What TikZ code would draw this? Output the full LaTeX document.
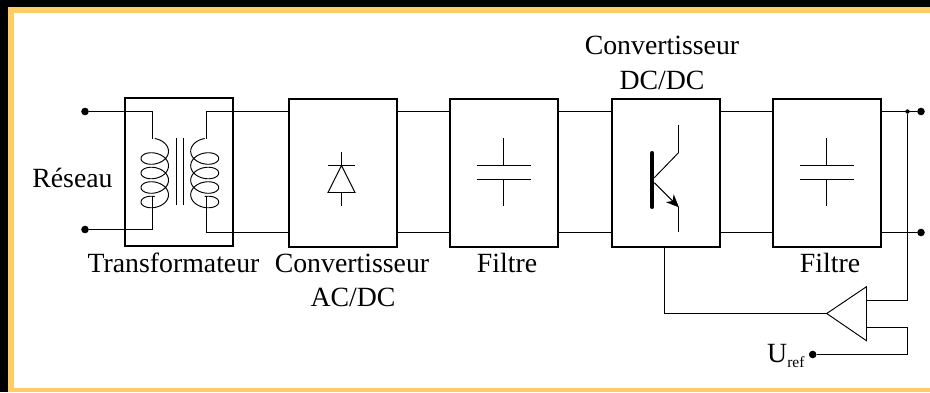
\documentclass[tikz,border=0pt]{standalone}
\usepackage{fontspec}
\setmainfont{Liberation Serif}
\usepackage{tikz}
\usetikzlibrary{arrows.meta,calc}
\definecolor{frame}{HTML}{FFCC66}
\tikzset{
  blockbox/.style={draw=black, line width=2.2pt, minimum width=108pt, minimum height=148pt, outer sep=0pt},
  wire/.style={draw=black, line width=1pt},
  thinw/.style={draw=black, line width=0.95pt},
  dot/.style={circle, fill=black, inner sep=0pt, minimum size=7.6pt},
  smalldot/.style={circle, fill=black, inner sep=0pt, minimum size=4.4pt},
  lab/.style={anchor=base, inner sep=0pt, font=\fontsize{27.8}{33}\selectfont}
}
\newcommand{\CoilAt}[2]{%
  \draw[thinw] plot[domain=-90:1350,samples=220,smooth]
    ({#1+#2*cos(\x)},{151.25+14.5*(\x/360)+9.1*sin(\x)});
}
\newcommand{\CapAt}[1]{%
  \draw[thinw] (#1,138.3) -- (#1,165.5);
  \draw[thinw] (#1-27,165.5) -- (#1+27,165.5);
  \draw[thinw] (#1-27,179.5) -- (#1+27,179.5);
  \draw[thinw] (#1,179.5) -- (#1,205.7);
}

\begin{document}
\begin{tikzpicture}[x=1pt,y=-1pt]
  \useasboundingbox (0,0) rectangle (930,392);
  \fill[black] (0,0) rectangle (930,392);
  \fill[frame] (8,7) rectangle (930,392);
  \fill[white] (14,13) rectangle (930,388);

  \coordinate (hi) at (0,111.5);
  \coordinate (lo) at (0,232.5);

  % blocks
  \node[blockbox] (trafo) at (179,172) {};
  \node[blockbox] (acdc) at (343,173) {};
  \node[blockbox] (filtA) at (504,173) {};
  \node[blockbox] (dcdc) at (666,173) {};
  \node[blockbox] (filtB) at (827,173) {};

  % terminals
  \node[dot] (inA) at (85,111.5) {};
  \node[dot] (inB) at (85,229.5) {};
  \node[dot] (outA) at (921,111.5) {};
  \node[dot] (outB) at (921,232.5) {};
  \node[smalldot] (tap) at (907.5,111.5) {};
  \node[dot] (uref) at (812.7,354.5) {};

  % transformer
  \coordinate (pA) at (152.5,138.5);
  \coordinate (pB) at (152.5,196.7);
  \coordinate (sA) at (206.5,138.5);
  \coordinate (sB) at (206.5,196.7);
  \draw[wire] (inA) -- (pA |- inA) -- (pA);
  \draw[wire] (inB) -- (pB |- inB) -- (pB);
  \draw[wire] (acdc.west |- hi) -- (sA |- hi) -- (sA);
  \draw[wire] (acdc.west |- lo) -- (sB |- lo) -- (sB);
  \CoilAt{154.75}{13.75}
  \CoilAt{204.7}{-14}
  \draw[thinw] (176.5,138.3) -- (176.5,205);
  \draw[thinw] (183.5,138.3) -- (183.5,205);

  % links
  \draw[wire] (acdc.east |- hi) -- (filtA.west |- hi);
  \draw[wire] (acdc.east |- lo) -- (filtA.west |- lo);
  \draw[wire] (filtA.east |- hi) -- (dcdc.west |- hi);
  \draw[wire] (filtA.east |- lo) -- (dcdc.west |- lo);
  \draw[wire] (dcdc.east |- hi) -- (filtB.west |- hi);
  \draw[wire] (dcdc.east |- lo) -- (filtB.west |- lo);
  \draw[wire] (filtB.east |- hi) -- (outA);
  \draw[wire] (filtB.east |- lo) -- (outB);

  % diode
  \draw[thinw] (341.5,152.3) -- (341.5,165.5);
  \draw[thinw] (328,165.5) -- (355,165.5);
  \draw[thinw] (341.5,165.5) -- (355,192.5) -- (328,192.5) -- cycle;
  \draw[thinw] (341.5,192.5) -- (341.5,205.7);

  \CapAt{503.5}
  \CapAt{826.5}

  % transistor
  \draw[black, line width=4pt, line cap=round] (652.3,153) -- (652.3,207);
  \draw[thinw] (678.5,125) -- (678.5,152.7) -- (654.3,177.7);
  \draw[thinw, -{Stealth[length=13pt,width=11pt,inset=4pt]}] (654.3,182.7) -- (679,207.4);
  \draw[thinw] (678.5,206.7) -- (678.5,232.3);

  % regulation loop
  \coordinate (ampO) at (826.7,313.5);
  \coordinate (ampT) at (866.5,286.7);
  \coordinate (ampB) at (866.5,340.7);
  \draw[thinw] (ampO) -- (ampT) -- (ampB) -- cycle;
  \draw[wire] (dcdc.south -| 664.5,0) -- (664.5,313.5) -- (ampO);
  \draw[wire] (tap) -- (907.5,300.5) -- (866.5,300.5);
  \draw[wire] (866.5,327.5) -- (907.5,327.5) -- (907.5,354.5) -- (uref);

  % labels
  \node[lab] (reseau) at (72.5,187) {Réseau};
  \node[lab] (ltrafo) at (173.5,272) {Transformateur};
  \node[lab] (lacdcA) at (352,272) {Convertisseur};
  \node[lab] (lacdcB) at (353,306) {AC/DC};
  \node[lab] (lfiltA) at (507,272) {Filtre};
  \node[lab] (ldcdcA) at (662,54) {Convertisseur};
  \node[lab] (ldcdcB) at (662,89.3) {DC/DC};
  \node[lab] (lfiltB) at (830,272) {Filtre};
  \node[lab, anchor=base west] (luref) at (767,362.7) {U\raisebox{-0.16em}{\fontsize{15.5}{16}\selectfont ref}};
\end{tikzpicture}
\end{document}
